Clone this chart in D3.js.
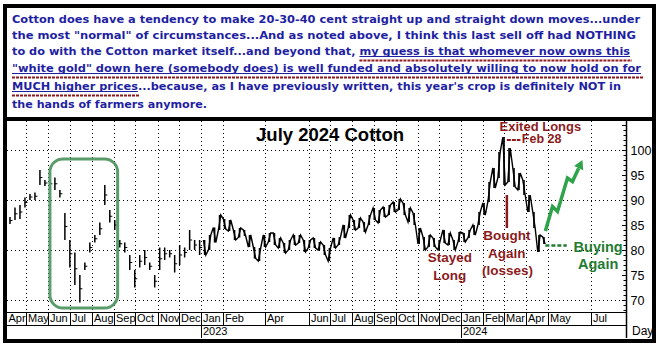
<!DOCTYPE html>
<html>
<head>
<meta charset="utf-8">
<script src="https://cdn.jsdelivr.net/npm/d3@7"></script>
<style>
  html, body { margin: 0; padding: 0; background: #fff; }
  svg { display: block; }
</style>
</head>
<body>
<svg id="chart" width="658" height="344"></svg>
<script>
// ---- commentary block above the chart ----
const noteLines = [
  "Cotton does have a tendency to make 20-30-40 cent straight up and straight down moves...under",
  "the most \"normal\" of circumstances...And as noted above, I think this last sell off had NOTHING",
  "to do with the Cotton market itself...and beyond that, my guess is that whomever now owns this",
  "\"white gold\" down here (somebody does) is well funded and absolutely willing to now hold on for",
  "MUCH higher prices...because, as I have previously written, this year's crop is definitely NOT in",
  "the hands of farmers anymore."
];
const noteUnderlined = [
  null,
  null,
  "my guess is that whomever now owns this",
  "\"white gold\" down here (somebody does) is well funded and absolutely willing to now hold on for",
  "MUCH higher prices",
  null
];

// ---- weekly price ranges, July 2024 cotton futures (cents/lb) ----
const weekDates = [
  "2022-04-08","2022-04-15","2022-04-22","2022-04-29","2022-05-06","2022-05-13","2022-05-20","2022-05-27",
  "2022-06-03","2022-06-10","2022-06-17","2022-06-24","2022-07-01","2022-07-08","2022-07-15","2022-07-22",
  "2022-07-29","2022-08-05","2022-08-12","2022-08-19","2022-08-26","2022-09-02","2022-09-09","2022-09-16",
  "2022-09-23","2022-09-30","2022-10-07","2022-10-14","2022-10-21","2022-10-28","2022-11-04","2022-11-11",
  "2022-11-18","2022-11-25","2022-12-02","2022-12-09","2022-12-16","2022-12-23","2022-12-30",
  "2023-01-06","2023-01-13","2023-01-20","2023-01-27","2023-02-03","2023-02-10","2023-02-17","2023-02-24",
  "2023-03-03","2023-03-10","2023-03-17","2023-03-24","2023-03-31","2023-04-07","2023-04-14","2023-04-21",
  "2023-04-28","2023-05-05","2023-05-12","2023-05-19","2023-05-26","2023-06-02","2023-06-09","2023-06-16",
  "2023-06-23","2023-06-30","2023-07-07","2023-07-14","2023-07-21","2023-07-28","2023-08-04","2023-08-11",
  "2023-08-18","2023-08-25","2023-09-01","2023-09-08","2023-09-15","2023-09-22","2023-09-29","2023-10-06",
  "2023-10-13","2023-10-20","2023-10-27","2023-11-03","2023-11-10","2023-11-17","2023-11-24","2023-12-01",
  "2023-12-08","2023-12-15","2023-12-22","2023-12-29",
  "2024-01-05","2024-01-12","2024-01-19","2024-01-26","2024-02-02","2024-02-09","2024-02-16","2024-02-23",
  "2024-03-01","2024-03-08","2024-03-15","2024-03-22","2024-03-29","2024-04-05","2024-04-12","2024-04-19",
  "2024-04-26"
];
const weekLows = [
  85.2, 86.0, 86.2, 88.5, 90.0, 90.0, 93.0, 92.8,
  92.5, 92.0, 90.5, 82.0, 76.5, 73.0, 69.5, 76.0,
  79.5, 81.5, 83.0, 89.0, 85.5, 84.0, 80.5, 79.5,
  76.0, 72.5, 76.5, 77.0, 76.0, 72.5, 76.0, 78.0,
  78.5, 75.5, 77.0, 78.5, 80.0, 80.0, 79.0,
  79.0, 80.0, 81.5, 84.0, 84.2, 83.8, 82.0, 82.5,
  82.8, 80.6, 78.3, 77.8, 80.6, 81.6, 81.0, 80.4,
  79.4, 80.0, 81.0, 81.4, 79.6, 80.4, 80.4, 80.0,
  79.0, 77.8, 80.4, 81.0, 82.4, 84.4, 84.0, 84.4,
  83.6, 85.0, 86.0, 85.4, 86.6, 87.0, 87.6, 88.0,
  87.0, 85.6, 85.0, 81.2, 80.0, 80.6, 80.6, 80.0,
  81.4, 81.0, 80.0, 81.6,
  81.6, 82.4, 83.0, 85.0, 87.0, 89.6, 92.4, 94.4,
  93.0, 93.6, 92.6, 92.0, 91.0, 87.6, 84.4, 79.6,
  81.2
];
const weekHighs = [
  86.6, 88.5, 89.0, 90.5, 91.2, 91.5, 96.0, 94.0,
  94.0, 94.5, 92.0, 87.4, 82.0, 79.5, 75.0, 77.5,
  81.5, 83.0, 85.5, 93.0, 88.0, 86.0, 82.0, 81.5,
  79.0, 76.0, 79.0, 80.0, 77.5, 75.0, 80.5, 80.5,
  80.0, 79.0, 81.0, 80.5, 84.0, 82.0, 82.0,
  82.0, 83.0, 84.5, 87.0, 86.2, 86.0, 84.0, 84.4,
  84.0, 83.0, 80.6, 80.4, 83.0, 83.4, 83.4, 82.4,
  81.4, 82.0, 83.0, 83.0, 82.0, 82.0, 82.4, 81.6,
  81.0, 80.4, 82.4, 82.6, 85.0, 87.0, 86.0, 86.4,
  85.6, 87.0, 88.4, 88.0, 88.6, 89.0, 89.6, 90.2,
  89.4, 88.4, 87.4, 84.4, 82.6, 83.0, 82.4, 82.0,
  84.0, 83.4, 82.0, 83.6,
  83.4, 84.0, 85.0, 87.6, 89.4, 93.6, 96.4, 99.6,
  102.6, 100.4, 96.4, 95.4, 94.0, 91.0, 87.6, 83.0,
  82.6
];
// thin early trading is drawn as loose bars, regular trading as a continuous trace
const activeTradingFrom = "2023-01-01";

// ---- axis labelling ----
const monthTicks = [
  "2022-04-01","2022-05-01","2022-06-01","2022-07-01","2022-08-01","2022-09-01","2022-10-01",
  "2022-11-01","2022-12-01","2023-01-01","2023-02-01","2023-04-01","2023-06-01","2023-07-01",
  "2023-08-01","2023-09-01","2023-10-01","2023-11-01","2023-12-01","2024-01-01","2024-02-01",
  "2024-03-01","2024-04-01","2024-05-01","2024-07-01"
];
const yearTicks = ["2023-01-01", "2024-01-01"];
const priceLabels = [70, 75, 80, 85, 90, 95, 100];
const priceGrid = [70, 80, 90, 100];

// ---- chart annotations (anchored in date / price units) ----
const chartTitle = { text: "July 2024 Cotton", date: "2023-07-01", value: 101.8 };
const redNotes = [
  { text: "Exited Longs", date: "2024-04-21", value: 103.9, size: 13 },
  { text: "Bought", date: "2024-03-05", value: 82.0, size: 13.5 },
  { text: "Again", date: "2024-03-05", value: 78.4, size: 13.5 },
  { text: "(losses)", date: "2024-03-06", value: 75.0, size: 13.5 },
  { text: "Stayed", date: "2023-12-16", value: 77.7, size: 13.5 },
  { text: "Long", date: "2023-12-16", value: 74.0, size: 13.5 }
];
const feb28Note = { text: "Feb 28", dashFrom: "2024-03-05", dashTo: "2024-03-24", dashValue: 102.0, date: "2024-03-26", value: 101.4 };
const boughtPointer = { date: "2024-03-05", from: 91.0, to: 84.4 };
const greenNotes = [
  { text: "Buying", date: "2024-07-11", value: 79.7 },
  { text: "Again", date: "2024-07-11", value: 76.3 }
];
const buyingDash = { from: "2024-04-28", to: "2024-05-28", value: 80.9 };
const outlookPath = [
  ["2024-04-28", 83.8], ["2024-05-08", 88.7], ["2024-05-15", 87.7],
  ["2024-05-29", 94.4], ["2024-06-05", 93.7], ["2024-06-19", 98.0]
];
const crashBox = { from: "2022-06-03", to: "2022-09-06", top: 98.2, bottom: 68.4 };

// ---------------------------------------------------------------
const parse = d3.timeParse("%Y-%m-%d");
const svg = d3.select("#chart");
const W = 658, H = 344;
const plot = { left: 7, right: 626, top: 121, bottom: 312 };
const monthRowBottom = 325, yearRowBottom = 338;

const x = d3.scaleTime()
  .domain([new Date(2022, 3, 1), new Date(2024, 6, 1)])
  .range([5, 591]);
const y = d3.scaleLinear().domain([70, 100]).range([300, 150]);

const RED = "#8d1b1d", BLUE = "#1f1fa3", GREEN_TXT = "#237c31", GREEN = "#2fa34a";

svg.append("rect").attr("width", W).attr("height", H).attr("fill", "#fff");

// ---- commentary text ----
const noteBase = [22.5, 38.5, 54.5, 71.5, 89.5, 107.5];
const noteEnd = [640, 636, 630, 641, 621, 207];
const noteX = 12;
const noteG = svg.append("g");
noteLines.forEach((line, i) => {
  const t = noteG.append("text")
    .attr("x", noteX).attr("y", noteBase[i])
    .attr("font-family", "'DejaVu Sans', Verdana, sans-serif")
    .attr("font-weight", "bold")
    .attr("font-size", 11.2)
    .attr("fill", BLUE)
    .attr("textLength", noteEnd[i] - noteX)
    .attr("lengthAdjust", "spacingAndGlyphs")
    .text(line);
  const phrase = noteUnderlined[i];
  if (phrase) {
    const node = t.node();
    const s = line.indexOf(phrase);
    const x0 = node.getStartPositionOfChar(s).x;
    const x1 = node.getEndPositionOfChar(s + phrase.length - 1).x;
    noteG.append("line")
      .attr("x1", x0).attr("x2", x1)
      .attr("y1", noteBase[i] + 2).attr("y2", noteBase[i] + 2)
      .attr("stroke", BLUE).attr("stroke-width", 1);
    noteG.append("line")
      .attr("x1", x0).attr("x2", x1 + 2)
      .attr("y1", noteBase[i] + 6).attr("y2", noteBase[i] + 6)
      .attr("stroke", RED).attr("stroke-width", 2)
      .attr("stroke-dasharray", "3,1");
  }
});

// ---- grid ----
const grid = svg.append("g").attr("stroke", "#000").attr("stroke-width", 1)
  .attr("stroke-dasharray", "1,3");
priceGrid.forEach(v => {
  const yy = Math.round(y(v)) + 0.5;
  grid.append("line").attr("x1", plot.left).attr("x2", plot.right).attr("y1", yy).attr("y2", yy);
});
monthTicks.forEach(d => {
  const xx = Math.round(x(parse(d))) + 0.5;
  if (xx < plot.left + 2) return;
  grid.append("line").attr("x1", xx).attr("x2", xx).attr("y1", plot.top).attr("y2", plot.bottom);
});

// ---- price trace ----
svg.append("clipPath").attr("id", "plotClip").append("rect")
  .attr("x", plot.left).attr("y", plot.top)
  .attr("width", plot.right - plot.left).attr("height", plot.bottom - plot.top);
const weeks = weekDates.map((d, i) => ({ date: parse(d), lo: weekLows[i], hi: weekHighs[i] }));
const split = parse(activeTradingFrom);
const early = weeks.filter(w => w.date < split);
const active = weeks.filter(w => w.date >= split);
const traceG = svg.append("g").attr("clip-path", "url(#plotClip)");

// sparse early trading: range bars with a small close tick
traceG.selectAll("line.early").data(early).join("line")
  .attr("class", "early")
  .attr("x1", w => x(w.date)).attr("x2", w => x(w.date))
  .attr("y1", w => y(w.lo)).attr("y2", w => y(w.hi))
  .attr("stroke", "#000").attr("stroke-width", 1.5);
traceG.selectAll("path.tick").data(early).join("path")
  .attr("class", "tick")
  .attr("d", w => `M${x(w.date)},${y((w.lo + w.hi) / 2)}h2.5`)
  .attr("stroke", "#000").attr("stroke-width", 1);

// regular trading: a jagged trace swinging through each week's high and low
const swing = [];
active.forEach((w, i) => {
  const cx = x(w.date);
  if (i % 2 === 0) { swing.push([cx - 1.2, y(w.hi)], [cx + 1.2, y(w.lo)]); }
  else { swing.push([cx - 1.2, y(w.lo)], [cx + 1.2, y(w.hi)]); }
});
traceG.append("path")
  .attr("d", d3.line()(swing))
  .attr("fill", "none").attr("stroke", "#000").attr("stroke-width", 1.4)
  .attr("stroke-linejoin", "miter");
traceG.selectAll("line.active").data(active).join("line")
  .attr("class", "active")
  .attr("x1", w => x(w.date)).attr("x2", w => x(w.date))
  .attr("y1", w => y(w.lo)).attr("y2", w => y(w.hi))
  .attr("stroke", "#000").attr("stroke-width", 1.6);

// ---- axes ----
const axisG = svg.append("g").attr("stroke", "#000");
axisG.append("line").attr("x1", plot.right + 0.5).attr("x2", plot.right + 0.5)
  .attr("y1", plot.top).attr("y2", yearRowBottom).attr("stroke-width", 1.5);
[plot.bottom, monthRowBottom].forEach(yy => {
  axisG.append("line").attr("x1", plot.left).attr("x2", plot.right)
    .attr("y1", yy + 0.5).attr("y2", yy + 0.5).attr("stroke-width", 1);
});
d3.range(68, 106).forEach(v => {
  const yy = Math.round(y(v)) + 0.5;
  axisG.append("line").attr("x1", plot.right - (v % 5 === 0 ? 4 : 2.5)).attr("x2", plot.right)
    .attr("y1", yy).attr("y2", yy).attr("stroke-width", 1);
});
const labelFont = "'Liberation Sans', Arial, sans-serif";
svg.append("g").selectAll("text").data(priceLabels).join("text")
  .attr("x", plot.right + 4.5).attr("y", v => y(v) + 4.5)
  .attr("font-family", labelFont).attr("font-size", 12.5).attr("fill", "#000")
  .text(v => v);

const monthFmt = d3.timeFormat("%b");
monthTicks.forEach(d => {
  const dt = parse(d);
  const xx = Math.max(plot.left, Math.round(x(dt)) + 0.5);
  if (xx > plot.left + 1) {
    axisG.append("line").attr("x1", xx).attr("x2", xx)
      .attr("y1", plot.bottom).attr("y2", monthRowBottom).attr("stroke-width", 1);
  }
  svg.append("text").attr("x", xx + 1.5).attr("y", monthRowBottom - 3.5)
    .attr("font-family", labelFont).attr("font-size", 11).attr("fill", "#000")
    .text(monthFmt(dt));
});
yearTicks.forEach(d => {
  const dt = parse(d);
  const xx = Math.round(x(dt)) + 0.5;
  axisG.append("line").attr("x1", xx).attr("x2", xx)
    .attr("y1", monthRowBottom).attr("y2", yearRowBottom).attr("stroke-width", 1);
  svg.append("text").attr("x", xx + 1.5).attr("y", yearRowBottom - 3.5)
    .attr("font-family", labelFont).attr("font-size", 11).attr("fill", "#000")
    .text(d3.timeFormat("%Y")(dt));
});
svg.append("text").attr("x", plot.right + 6).attr("y", yearRowBottom - 3)
  .attr("font-family", labelFont).attr("font-size", 12).attr("fill", "#000").text("Day");

// ---- annotations ----
const boldFont = "'Liberation Sans', Arial, sans-serif";
svg.append("text")
  .attr("x", x(parse(chartTitle.date))).attr("y", y(chartTitle.value))
  .attr("text-anchor", "middle").attr("font-family", boldFont).attr("font-weight", "bold")
  .attr("font-size", 18.5).attr("fill", "#000").text(chartTitle.text);

svg.append("rect")
  .attr("x", x(parse(crashBox.from))).attr("y", y(crashBox.top))
  .attr("width", x(parse(crashBox.to)) - x(parse(crashBox.from)))
  .attr("height", y(crashBox.bottom) - y(crashBox.top))
  .attr("rx", 13).attr("ry", 13)
  .attr("fill", "none").attr("stroke", "#5b9c6b").attr("stroke-width", 3);

redNotes.forEach(n => {
  svg.append("text").attr("x", x(parse(n.date))).attr("y", y(n.value))
    .attr("text-anchor", "middle").attr("font-family", boldFont).attr("font-weight", "bold")
    .attr("font-size", n.size).attr("fill", RED).text(n.text);
});
svg.append("line")
  .attr("x1", x(parse(feb28Note.dashFrom))).attr("x2", x(parse(feb28Note.dashTo)))
  .attr("y1", y(feb28Note.dashValue)).attr("y2", y(feb28Note.dashValue))
  .attr("stroke", RED).attr("stroke-width", 2).attr("stroke-dasharray", "4,1");
svg.append("text").attr("x", x(parse(feb28Note.date))).attr("y", y(feb28Note.value))
  .attr("font-family", boldFont).attr("font-weight", "bold")
  .attr("font-size", 12.5).attr("fill", RED).text(feb28Note.text);
svg.append("line")
  .attr("x1", x(parse(boughtPointer.date))).attr("x2", x(parse(boughtPointer.date)))
  .attr("y1", y(boughtPointer.from)).attr("y2", y(boughtPointer.to))
  .attr("stroke", RED).attr("stroke-width", 2.5);

greenNotes.forEach(n => {
  svg.append("text").attr("x", x(parse(n.date))).attr("y", y(n.value))
    .attr("text-anchor", "middle").attr("font-family", boldFont).attr("font-weight", "bold")
    .attr("font-size", 14.5).attr("fill", GREEN_TXT).text(n.text);
});
svg.append("line")
  .attr("x1", x(parse(buyingDash.from))).attr("x2", x(parse(buyingDash.to)))
  .attr("y1", y(buyingDash.value)).attr("y2", y(buyingDash.value))
  .attr("stroke", GREEN_TXT).attr("stroke-width", 2.5).attr("stroke-dasharray", "4,2");

// projected move: zig-zag line with an arrow head
const pts = outlookPath.map(p => [x(parse(p[0])), y(p[1])]);
const tip = pts[pts.length - 1], prev = pts[pts.length - 2];
const ang = Math.atan2(tip[1] - prev[1], tip[0] - prev[0]);
const headLen = 9, headHalf = 5;
const base = [tip[0] - headLen * Math.cos(ang), tip[1] - headLen * Math.sin(ang)];
svg.append("path")
  .attr("d", d3.line()(pts.slice(0, -1).concat([base])))
  .attr("fill", "none").attr("stroke", GREEN).attr("stroke-width", 3.5)
  .attr("stroke-linejoin", "miter");
const nx = -Math.sin(ang), ny = Math.cos(ang);
svg.append("path")
  .attr("d", `M${tip[0]},${tip[1]}L${base[0] + nx * headHalf},${base[1] + ny * headHalf}L${base[0] - nx * headHalf},${base[1] - ny * headHalf}Z`)
  .attr("fill", GREEN);

// ---- frame ----
svg.append("rect").attr("x", 5).attr("y", 6).attr("width", 649).attr("height", 335)
  .attr("fill", "none").attr("stroke", "#000").attr("stroke-width", 4);
svg.append("line").attr("x1", 3).attr("x2", 656).attr("y1", 119).attr("y2", 119)
  .attr("stroke", "#000").attr("stroke-width", 4);
</script>
</body>
</html>
